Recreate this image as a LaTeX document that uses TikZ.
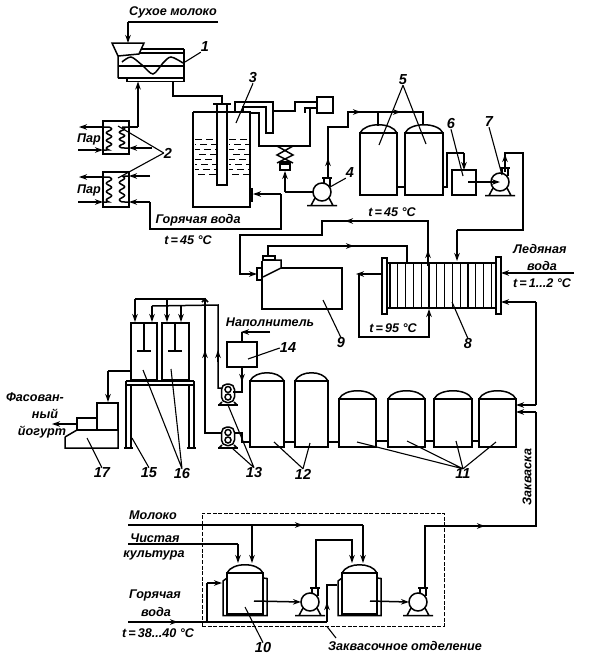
\documentclass[tikz,border=0pt]{standalone}
\usepackage{fontspec}
\setmainfont{Liberation Sans}
\usetikzlibrary{arrows.meta,fit,calc}
\tikzset{
  pipe/.style={line width=1.5pt,line join=miter},
  arr/.style={line width=1.5pt,-{Stealth[length=8pt,width=5.5pt]}},
  leader/.style={line width=1.1pt},
  lbl/.style={font=\fontsize{12.6}{13}\selectfont\bfseries\itshape,inner sep=0pt,text=black},
  num/.style={font=\fontsize{14.5}{14}\selectfont\bfseries\itshape,inner sep=0pt},
  eq/.style={draw,line width=1.5pt,inner sep=0pt,outer sep=0pt},
}
\newcommand{\eqbox}[5]{\node[eq,fit={(#2,#3)(#4,#5)}] (#1) {};}
\newcommand{\tankicon}[5]{\eqbox{#1}{#2}{#3}{#4}{#5}
  \draw[pipe] (#1.north west) .. controls ([shift={(5,-11)}]#1.north west) and ([shift={(-5,-11)}]#1.north east) .. (#1.north east);}
\newcommand{\jtank}[5]{\tankicon{#1}{#2}{#3}{#4}{#5}
  \draw[pipe] ([shift={(0,5)}]#1.north west) -- ++(-4,3) |- ([shift={(4,1.5)}]#1.south east) -- ++(0,-37) -- ([shift={(0,5)}]#1.north east);}
\newcommand{\pumpicon}[3]{\begin{scope}[shift={(#2,#3)}]
  \node[eq,circle,minimum size=18pt] (#1) at (0,0) {};
  \draw[pipe] (-15,13.5) -- (15,13.5) (-7,6) -- (-11,13.5) (7,6) -- (11,13.5);
  \draw[pipe] (2,-8) -- (2,-13) (8,-6) -- (8,-13) (0,-14) -- (10,-14);
  \end{scope}}
\newcommand{\perist}[3]{\begin{scope}[shift={(#2,#3)}]
  \draw[pipe,rounded corners=5.5pt] (-6.5,-2.5) rectangle (6.5,-21);
  \node[eq,circle,minimum size=6pt] (#1a) at (0,-8) {};
  \node[eq,circle,minimum size=6pt] (#1b) at (0,-15.5) {};
  \draw[line width=2pt] (-10,0) -- (10,0);
  \draw[pipe] (-6,-3) -- (-9,0) (6,-3) -- (9,0);
  \end{scope}}
\newcommand{\coil}[4]{\draw[pipe] (#1,#3) -- (#2,#3) plot[smooth,domain=0:1,samples=40] ({#2+2.6*sin(1080*\x)},{#3+(#4-#3)*\x}) -- (#1,#4);}
\begin{document}
\begin{tikzpicture}[x=1pt,y=-1pt]
\useasboundingbox (0,0) rectangle (594,659);
% --- hopper 1
\draw[pipe] (118,78) -- (118,56) -- (112,43) -- (144,43) -- (139,54) -- (118,56);
\draw[pipe] (139,53) -- (184,53) (142,49) -- (184,49);
\draw[pipe] (118,66) -- (184,66) (118,78) -- (184,78);
\draw[pipe] (184,49) -- (184,81.5) -- (127,81.5) -- (127,78);
\draw[pipe] plot[smooth] coordinates {(122,62)(131,57)(142,65)(153,74)(163,63)(171,57)(183,63)};
\coordinate (hopin) at (128,43);
\coordinate (hopout) at (173,81.5);
\coordinate (hopjack) at (138,81.5);
% --- exchangers 2
\eqbox{ex1}{103}{121}{129}{154}
\eqbox{ex2}{103}{172}{129}{207}
\coil{103}{109}{127}{150}
\coil{129}{122}{127}{148}
\coil{103}{109}{177}{202}
\coil{129}{122}{176}{202}
% --- vessel 3
\draw[pipe] (193,112) -- (193,207) -- (250,207) -- (250,112) -- (193,112);
\eqbox{pipe3}{217}{104}{227}{185}
\draw[pipe] (213,104) -- (231,104);
\foreach \y/\o in {139/0,144/6,149/2,154/7,159/1,164/5,169/3,174/8}{
  \draw[line width=1pt,dash pattern=on 7pt off 4pt,dash phase=\o pt] (195,\y) -- (216,\y);
  \draw[line width=1pt,dash pattern=on 7pt off 4pt,dash phase=\o pt] (229,\y) -- (249,\y);
}
\draw[line width=2.6pt] (252,188) -- (252,202);
\draw[pipe] (250,190) -- (252,190) (250,200) -- (252,200);
\coordinate (v3in) at (253,194);
% --- loop and small tank
\draw[pipe] (235,112) -- (235,102) -- (273,102) -- (273,133) -- (266,133) -- (266,107) -- (243,107) -- (243,112);
\draw[pipe] (250,113) -- (259,113) -- (259,146) -- (310,146) -- (310,108) -- (305,108) -- (305,113);
\eqbox{tk}{317}{97}{333}{113}
\draw[pipe] (273,111) -- (295,111) -- (295,102) -- (tk.west |- 0,102);
\draw[pipe] (305,108) -- (tk.west |- 0,108);
% --- valve
\draw[pipe] (277,146) -- (293,155) -- (277,163) (293,146) -- (277,155) -- (293,163);
\node[eq,fill=black,minimum width=10pt,minimum height=3pt] (valve) at (285,163) {};
\eqbox{valveb}{280}{164}{290}{170}
% --- pump 4
\pumpicon{p4}{322}{192}
\draw[arr] (285,192) -- (285,171);
\draw[pipe] (p4.west) -- (285,192);
\draw[pipe] (328,178) -- (328,127) -- (348,127) -- (348,112) -- (423,112) -- (423,125);
\draw[arr] (328,172) -- (328,158);
\draw[arr] (348,112) -- (361,112);
\draw[arr] (385,112) -- (401,112);
\draw[pipe] (378,112) -- (378,126);
% --- tanks 5
\tankicon{t5a}{360}{133}{397}{195}
\tankicon{t5b}{405}{133}{443}{195}
\draw[pipe] (t5a.east |- 0,187) -- (t5b.west |- 0,187);
\eqbox{b6}{452}{170}{476}{195}
\draw[pipe] (t5b.east |- 0,187) -- (447,187) -- (447,153) -- (464,153);
\draw[arr] (464,153) -- (b6.north);
\pumpicon{p7}{500}{182}
\draw[arr] (468,182) -- (p7.center);
\draw[pipe] (505,168) -- (505,153) -- (523,153) -- (523,230) -- (457,230);
\draw[arr] (505,172) -- (505,154);
% --- plate exchanger 8
\eqbox{pl}{382}{258}{387}{314}
\eqbox{pr}{496}{257}{501}{314}
\draw[pipe] (pl.east |- 0,263) -- (pr.west |- 0,263) (pl.east |- 0,308) -- (pr.west |- 0,308);
\foreach \x in {390,397.8,405.6,413.4,421.2,429,436.8,444.6,452.4,460.2,468,475.8,483.6,491.4}{
  \draw[line width=1.2pt] (\x,263) -- (\x,308);
}
\draw[arr] (457,230) -- (457,261);
\draw[pipe] (428,262) -- (428,221) -- (322,221) -- (322,235) -- (240,235) -- (240,274) -- (250,274);
\draw[arr] (428,266) -- (428,250);
\draw[arr] (365,221) -- (345,221);
\draw[arr] (240,274) -- (257,274);
\draw[pipe] (407,263) -- (407,246) -- (268,246) -- (268,256);
\draw[arr] (345,246) -- (354,246);
\draw[arr] (pl.west |- 0,274) -- (356,274);
\draw[pipe] (359,274) -- (359,337) -- (429,337) -- (429,320);
\draw[arr] (429,322) -- (429,309);
\draw[arr] (574,273) -- (pr.east |- 0,273);
\draw[arr] (536,302) -- (pr.east |- 0,302);
% --- separator and tank 9
\draw[pipe] (262,261) -- (262,309) -- (342,309) -- (342,268) -- (281,268);
\draw[pipe] (263,260) -- (281,260) -- (281,268) -- (263,277);
\eqbox{capsep}{263}{256}{275}{260}
\eqbox{flsep}{257}{268}{262}{280}
% --- hopper feed
\draw[pipe] (218,22) -- (128,22);
\draw[arr] (128,22) -- (hopin);
\draw[pipe] (hopout) -- (173,96) -- (222,96) -- (222,104);
\draw[pipe] (ex1.east |- 0,127) -- (138,127);
\draw[arr] (138,127) -- (hopjack);
\draw[arr] (ex1.west |- 0,127) -- (79,127);
\draw[arr] (78,150) -- (ex1.west |- 0,150);
\draw[arr] (152,148) -- (ex1.east |- 0,148);
\draw[arr] (ex2.west |- 0,177) -- (79,177);
\draw[arr] (78,202) -- (ex2.west |- 0,202);
\draw[arr] (150,176) -- (ex2.east |- 0,176);
\draw[pipe] (150,202) -- (150,229) -- (281,229) -- (281,194);
\draw[arr] (150,202) -- (ex2.east |- 0,202);
\draw[arr] (281,194) -- (v3in);
% --- tanks 11 and 12
\tankicon{t11a}{339}{399}{376}{447}
\tankicon{t11b}{388}{399}{425}{447}
\tankicon{t11c}{434}{399}{472}{447}
\tankicon{t11d}{479}{399}{516}{447}
\tankicon{t12a}{250}{381}{284}{447}
\tankicon{t12b}{295}{381}{328}{447}
\draw[pipe] (t12a.east |- 0,442) -- (t12b.west |- 0,442) (t12b.east |- 0,442) -- (t11a.west |- 0,442);
\draw[pipe] (t11a.east |- 0,441) -- (t11b.west |- 0,441) (t11b.east |- 0,441) -- (t11c.west |- 0,441) (t11c.east |- 0,441) -- (t11d.west |- 0,441);
\draw[pipe] (536,302) -- (536,405);
\draw[arr] (536,405) -- (t11d.east |- 0,405);
\draw[arr] (536,412) -- (t11d.east |- 0,412);
\draw[pipe] (536,412) -- (536,526) -- (425,526) -- (425,588);
\draw[arr] (462,526) -- (485,526);
% --- pumps 13
\perist{p13a}{228}{405}
\perist{p13b}{228}{448}
\draw[pipe] (235,433) -- (242,433) -- (242,442) -- (t12a.west |- 0,442);
% --- box 14
\eqbox{b14}{227}{342}{257}{367}
\draw[arr] (270,332) -- (241,332);
\draw[pipe] (242,332) -- (b14.north);
\draw[pipe] (b14.south) -- (242,392) -- (233,392);
\draw[arr] (242,367) -- (242,382);
% --- tanks 16 / table 15
\eqbox{t16a}{131}{323}{157}{380}
\eqbox{t16b}{162}{323}{189}{380}
\draw[pipe] (144,323) -- (144,351) (175,323) -- (175,351);
\draw[line width=2.6pt] (137,351) -- (151,351) (168,351) -- (182,351);
\draw[pipe] (126,381) -- (194,381) (126,385) -- (194,385);
\draw[pipe] (126,381) -- (126,447) (131,385) -- (131,447) (189,385) -- (189,447) (194,381) -- (194,447);
\draw[line width=2pt] (124,448) -- (133,448) (187,448) -- (196,448);
% --- feed to 16
\draw[pipe] (222,433) -- (205,433) -- (205,299) -- (135,299);
\draw[arr] (135,299) -- (135,322);
\draw[arr] (205,360) -- (205,350);
\draw[arr] (167,299) -- (167,322);
\draw[pipe] (222,388) -- (218,388) -- (218,305) -- (152,306);
\draw[arr] (218,362) -- (218,350);
\draw[arr] (152,306) -- (152,322);
\draw[arr] (181,306) -- (181,322);
\draw[pipe] (202,302) -- (205,299) -- (208,302);
% --- machine 17
\eqbox{m17a}{97}{403}{118}{430}
\eqbox{m17b}{77}{418}{97}{430}
\draw[pipe] (65,437) -- (77,430) (118,430) -- (118,448) -- (65,448) -- (65,437);
\draw[pipe] (t16a.west |- 0,371) -- (108,371);
\draw[arr] (108,371) -- (108,402);
\draw[arr] (m17b.west |- 0,424) -- (52,424);
% --- starter section
\node[draw,dash pattern=on 4pt off 1.6pt,line width=0.95pt,inner sep=0pt,fit={(202,513)(444,626)}] (bench) {};
\jtank{t10a}{227}{573}{263}{614}
\jtank{t10b}{342}{573}{377}{614}
\pumpicon{p10a}{310}{602}
\pumpicon{p10b}{418}{602}
\draw[pipe] (128,525) -- (363,525);
\draw[arr] (280,525) -- (303,525);
\draw[arr] (252,525) -- (252,563);
\draw[arr] (363,525) -- (363,563);
\draw[pipe] (128,544) -- (238,544);
\draw[arr] (238,544) -- (238,563);
\draw[arr] (316,588) |- (352,540) -- (352,563);
\draw[arr] (254,601) -- (p10a.west);
\draw[arr] (370,601) -- (p10b.west);
\draw[pipe] (128,622) -- (327,622);
\draw[arr] (150,622) -- (178,622);
\draw[pipe] (207,622) -- (207,583);
\draw[arr] (207,583) -- (222,583);
\draw[pipe] (327,622) -- (327,585) -- (337,585);
\draw[arr] (327,612) -- (327,602);
% --- leaders and numbers
\node[num] (n1) at (205,47) {1};
\draw[leader] (n1.south west) -- (185,62);
\node[num] (n2) at (168,153) {2};
\draw[leader] (n2.west) -- (118,126) (n2.west) -- (118,178);
\node[num] (n3) at (253,78) {3};
\draw[leader] (n3.south) -- (236,123);
\node[num] (n4) at (350,173) {4};
\draw[leader] (n4.south west) -- (330,187);
\node[num] (n5) at (403,80) {5};
\draw[leader] (n5.south) -- (379,145) (n5.south) -- (426,144);
\node[num] (n6) at (451,124) {6};
\draw[leader] (n6.south) -- (463,176);
\node[num] (n7) at (489,122) {7};
\draw[leader] (n7.south) -- (502,175);
\node[num] (n8) at (468,344) {8};
\draw[leader] (n8.north) -- (452,302);
\node[num] (n9) at (341,343) {9};
\draw[leader] (n9.north) -- (323,300);
\node[num] (n10) at (263,648) {10};
\draw[leader] (n10.north) -- (245,607);
\node[num] (n11) at (463,474) {11};
\draw[leader] (n11.north) -- (357,442) (n11.north) -- (407,441) (n11.north) -- (456,441) (n11.north) -- (496,442);
\node[num] (n12) at (303,474) {12};
\draw[leader] (n12.north) -- (274,442) (n12.north) -- (310,443);
\node[num] (n13) at (254,473) {13};
\draw[leader] (n13.north) -- (228,405) (n13.north) -- (232,448);
\node[num] (n14) at (288,348) {14};
\draw[leader] (n14.west) -- (248,359);
\node[num] (n15) at (149,473) {15};
\draw[leader] (n15.north) -- (132,438);
\node[num] (n16) at (182,474) {16};
\draw[leader] (n16.north) -- (143,370) (n16.north) -- (171,369);
\node[num] (n17) at (102,473) {17};
\draw[leader] (n17.north) -- (87,438);
% --- texts
\node[lbl] (sm) at (173,12) {Сухое молоко};
\node[lbl] (par1) at (89,139) {Пар};
\node[lbl] (par2) at (89,190) {Пар};
\node[lbl] (gv) at (198,220) {Горячая вода};
\node[lbl] (t45a) at (188,240) {\textit{t}\,=\,45 °C};
\node[lbl] (t45b) at (392,212) {\textit{t}\,=\,45 °C};
\node[lbl] (t95) at (393,328) {\textit{t}\,=\,95 °C};
\node[lbl] (ice1) at (540,249) {Ледяная};
\node[lbl] (ice2) at (542,266) {вода};
\node[lbl] (ice3) at (542,283) {\textit{t}\,=\,1...2 °C};
\node[lbl] (nap) at (270,322) {Наполнитель};
\node[lbl] (f1) at (35,397) {Фасован-};
\node[lbl] (f2) at (45,414) {ный};
\node[lbl] (f3) at (42,432) {йогурт};
\node[lbl,rotate=90] (zak) at (527,477) {Закваска};
\node[lbl] (mol) at (153,515) {Молоко};
\node[lbl] (ch1) at (155,538) {Чистая};
\node[lbl] (ch2) at (154,555) {культура};
\node[lbl] (gor) at (155,595) {Горячая};
\node[lbl] (vod) at (156,612) {вода};
\node[lbl] (t38) at (158,633) {\textit{t}\,=\,38...40 °C};
\node[lbl] (zo) at (405,646) {Заквасочное отделение};
\draw[leader] (bench.south west -| 327,0) -- (336,638);
\end{tikzpicture}
\end{document}
